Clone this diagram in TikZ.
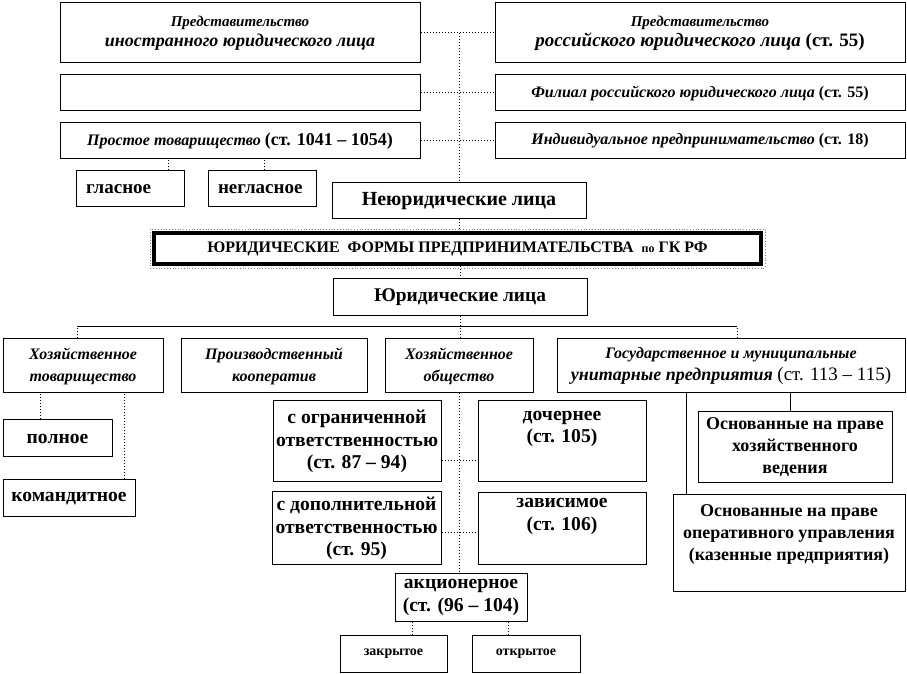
\documentclass[tikz,border=0pt]{standalone}
\usepackage{fontspec}
\setmainfont{Liberation Serif}
\usetikzlibrary{positioning, calc}
\newcommand{\fsz}[2]{\fontsize{#1}{#2}\selectfont}

\begin{document}
\begin{tikzpicture}[
    x=0.5pt, y=-0.5pt,
    box/.style={draw, line width=0.5pt, fill=white, align=center,
                inner sep=1pt, font=\bfseries\fsz{9.8}{11.3}},
    itbox/.style={box, font=\bfseries\itshape\fsz{8}{11}},
    lftbox/.style={box, align=left, inner xsep=5pt, font=\bfseries\fsz{9.5}{11}},
    link/.style={densely dotted, line width=0.5pt},
    tie/.style={line width=0.5pt}
  ]
    \useasboundingbox (0,0) rectangle (907,674);

    % upper block
    \node[itbox, minimum width=180pt, minimum height=30pt, font=\bfseries\itshape\fsz{9}{10}]
      (pia) at (240,33) {{\fsz{7.5}{9}Представительство}\\иностранного юридического лица};
    \node[box, minimum width=180pt, minimum height=18pt]
      (frl) at (240,93) {};
    \node[itbox, minimum width=180pt, minimum height=18pt]
      (pt) at (240,141) {Простое товарищество \textup{\fsz{9}{10}(ст. 1041 – 1054)}};
    \node[lftbox, text width=44pt, minimum height=18pt]
      (gl) at (130,189) {гласное};
    \node[lftbox, text width=44pt, minimum height=18pt]
      (ngl) at (262,189) {негласное};
    \node[box, minimum width=127pt, minimum height=18pt, font=\bfseries\fsz{10}{12}]
      (neur) at (459,201) {Неюридические лица};
    \node[itbox, minimum width=205pt, minimum height=30pt, font=\bfseries\itshape\fsz{9.5}{10}]
      (prl) at (700,33) {{\fsz{7.5}{9}Представительство}\\российского юридического лица \textup{(ст. 55)}};
    \node[itbox, minimum width=205pt, minimum height=18pt]
      (fil) at (700,93) {Филиал российского юридического лица \textup{(ст. 55)}};
    \node[itbox, minimum width=205pt, minimum height=18pt]
      (ip) at (700,141) {Индивидуальное предпринимательство \textup{(ст. 18)}};

    % title
    \node[box, line width=2pt, minimum width=303.5pt, minimum height=15.5pt, font=\bfseries\fsz{8}{9}]
      (title) at (457.5,248.5) {ЮРИДИЧЕСКИЕ\ \ ФОРМЫ ПРЕДПРИНИМАТЕЛЬСТВА\ \ {\fsz{6}{7}по} ГК РФ};
    \draw[densely dotted, line width=0.4pt, gray]
      ([shift={(-1pt,1pt)}]title.north west) rectangle ([shift={(1pt,-1pt)}]title.south east);

    \node[box, minimum width=127pt, minimum height=18.5pt, font=\bfseries\fsz{9.7}{12}]
      (ur) at (460,297.5) {Юридические лица};

    % legal entities
    \node[itbox, minimum width=80pt, minimum height=27pt]
      (ht) at (83,366) {Хозяйственное\\товарищество};
    \node[itbox, minimum width=93pt, minimum height=27pt]
      (pk) at (274,366) {Производственный\\кооператив};
    \node[itbox, minimum width=74pt, minimum height=27pt]
      (ho) at (459,366) {Хозяйственное\\общество};
    \node[itbox, minimum width=174pt, minimum height=27pt, font=\bfseries\itshape\fsz{9}{11}]
      (gos) at (731,366) {{\fsz{8}{9}Государственное и муниципальные}\\унитарные предприятия \textup{\mdseries\fsz{9.5}{11}(ст. 113 – 115)}};

    \node[box, minimum width=54.5pt, minimum height=18.5pt]
      (poln) at (57.5,438.5) {полное};
    \node[box, minimum width=66pt, minimum height=18.5pt]
      (kom) at (69,498.5) {командитное};

    \node[box, minimum width=84pt, minimum height=40.5pt]
      (ooo) at (357,441.5) {с ограниченной\\ответственностью\\(ст. 87 – 94)};
    \node[box, minimum width=84.5pt, minimum height=36.5pt]
      (odo) at (356.5,528.5) {с дополнительной\\ответственностью\\(ст. 95)};
    \node[box, minimum width=84pt, minimum height=40.5pt]
      (doch) at (562,441.5) {дочернее\\(ст. 105)\\\strut};
    \node[box, minimum width=84pt, minimum height=36pt]
      (zav) at (562,529) {зависимое\\(ст. 106)\\\strut};
    \node[box, minimum width=66pt, minimum height=23.5pt]
      (ao) at (461,597.5) {акционерное\\(ст. (96 – 104)};
    \node[box, minimum width=53.5pt, minimum height=18.5pt, font=\bfseries\fsz{7}{8}]
      (zao) at (393.5,653.5) {закрытое};
    \node[box, minimum width=54pt, minimum height=18.5pt, font=\bfseries\fsz{7}{8}]
      (oao) at (526,653.5) {открытое};

    \node[box, minimum width=97pt, minimum height=35.5pt, font=\bfseries\fsz{9}{11}]
      (hv) at (795,447.5) {Основанные на праве\\хозяйственного\\ведения};
    \node[box, minimum width=116pt, minimum height=48pt, font=\bfseries\fsz{9}{11}]
      (ou) at (789,543) {Основанные на праве\\оперативного управления\\(казенные предприятия)\\[-4pt]\strut};

    % connectors
    \draw[link] (pia.east) -- (prl.west);
    \draw[link] (frl.east) -- (fil.west);
    \draw[link] (pt.east) -- (ip.west);
    \draw[link] (pia.east -| neur.north) -- (neur.north);
    \draw[link] (neur.south) -- (neur.south |- title.north);
    \draw[link] (title.south -| ur.north) -- (ur.north);
    \draw[link] (ur.south) -- (ur.south |- ho.north);
    \draw[link] ([xshift=19pt]gl.north) -- ([xshift=19pt]pt.south -| gl.north);
    \draw[link] ([xshift=1pt]ngl.north) -- ([xshift=1pt]pt.south -| ngl.north);

    \draw[link] ([xshift=-3pt]ht.north) -- ++(0,6pt) coordinate (bl);
    \draw[link] ([xshift=3pt]gos.north) -- ++(0,6pt) coordinate (br);
    \draw[tie] (bl) -- (br);

    \draw[link] ([xshift=-8.75pt]poln.north) -- ([xshift=-8.75pt]ht.south -| poln.north);
    \draw[link] ([xshift=27.5pt]kom.north) -- ([xshift=27.5pt]ht.south -| kom.north);
    \draw[link] (ho.south) -- (ho.south |- ao.north);
    \draw[link] ([yshift=-9.75pt]ooo.east) -- ([yshift=-9.75pt]doch.west);
    \draw[link] ([yshift=-2.25pt]odo.east) -- ([yshift=-2.25pt]odo.east -| zav.west);
    \draw[link] ([xshift=9.25pt]zao.north) -- ([xshift=9.25pt]ao.south -| zao.north);
    \draw[link] ([xshift=-9pt]oao.north) -- ([xshift=-9pt]ao.south -| oao.north);
    \draw[tie] ([xshift=-51.5pt]ou.north) -- ([xshift=-51.5pt]gos.south -| ou.north);
    \draw[tie] ([xshift=-2.5pt]hv.north) -- ([xshift=-2.5pt]gos.south -| hv.north);
  \end{tikzpicture}
\end{document}
